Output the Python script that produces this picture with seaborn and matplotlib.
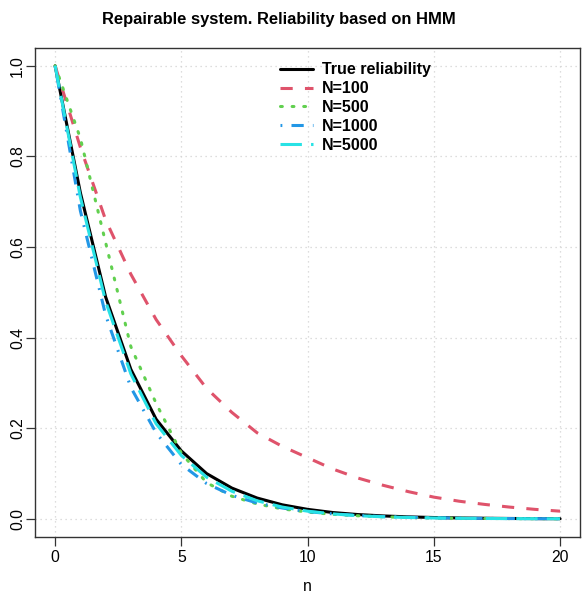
import matplotlib
matplotlib.use("Agg")
import matplotlib.pyplot as plt
import seaborn as sns

# values
n = list(range(21))
true_rel = [1.0, 0.72, 0.49, 0.33, 0.22, 0.15, 0.10, 0.068, 0.046, 0.031, 0.021,
            0.014, 0.0095, 0.0065, 0.0044, 0.003, 0.002, 0.0014, 0.0009, 0.0006, 0.0004]
n100 = [1.0, 0.82, 0.66, 0.54, 0.44, 0.36, 0.288, 0.235, 0.19, 0.16, 0.135,
        0.11, 0.09, 0.074, 0.06, 0.048, 0.039, 0.032, 0.026, 0.021, 0.017]
n500 = [1.0, 0.84, 0.61, 0.38, 0.255, 0.145, 0.08, 0.05, 0.033, 0.022, 0.015,
        0.01, 0.0068, 0.0045, 0.003, 0.002, 0.0013, 0.0009, 0.0006, 0.0004, 0.0003]
n1000 = [1.0, 0.68, 0.45, 0.29, 0.19, 0.12, 0.078, 0.052, 0.035, 0.024, 0.016,
         0.011, 0.0075, 0.005, 0.0035, 0.0024, 0.0016, 0.0011, 0.0007, 0.0005, 0.0003]
n5000 = [1.0, 0.71, 0.48, 0.32, 0.21, 0.14, 0.092, 0.061, 0.040, 0.026, 0.017,
         0.011, 0.007, 0.0045, 0.003, 0.002, 0.0013, 0.0009, 0.0006, 0.0004, 0.0003]
labels = ["True reliability", "N=100", "N=500", "N=1000", "N=5000"]

sns.set_style("white")
plt.rcParams['font.family'] = ['Liberation Sans', 'DejaVu Sans']
plt.rcParams['text.color'] = 'black'
plt.rcParams['axes.labelcolor'] = 'black'
plt.rcParams['xtick.color'] = 'black'
plt.rcParams['ytick.color'] = 'black'

fig = plt.figure(figsize=(5.82, 5.96), dpi=100)
ax = fig.add_axes([0.060, 0.099, 0.937, 0.821])

lw = 2.2
sns.lineplot(x=n, y=true_rel, ax=ax, color="black", lw=lw, linestyle="-", label=labels[0])
sns.lineplot(x=n, y=n100, ax=ax, color="#DF536B", lw=lw, linestyle=(0, (4, 4)), label=labels[1])
sns.lineplot(x=n, y=n500, ax=ax, color="#61D04F", lw=lw, linestyle=(0, (0.6, 3.2)),
             dash_capstyle="round", label=labels[2])
sns.lineplot(x=n, y=n1000, ax=ax, color="#2297E6", lw=lw, linestyle=(0, (0.6, 3, 4, 3)),
             label=labels[3])
sns.lineplot(x=n, y=n5000, ax=ax, color="#28E2E5", lw=lw, linestyle=(0, (7, 3)), label=labels[4])

ax.set_xlim(-0.8, 20.8)
ax.set_ylim(-0.04, 1.04)
ax.set_xticks([0, 5, 10, 15, 20])
ax.set_yticks([0.0, 0.2, 0.4, 0.6, 0.8, 1.0])
ax.set_yticklabels(["0.0", "0.2", "0.4", "0.6", "0.8", "1.0"])
ax.grid(True, color="lightgray", linestyle=(0, (1, 3)), lw=0.9)
for s in ax.spines.values():
    s.set_color("#333333")
    s.set_linewidth(1.0)
ax.tick_params(axis="both", direction="out", length=6.5, width=0.9, color="#333333",
               labelsize=11.3, bottom=True, left=True)
ax.tick_params(axis="x", pad=3)
ax.tick_params(axis="y", pad=0.5)
plt.setp(ax.get_yticklabels(), rotation=90, va="center")

ax.set_xlabel("n", fontsize=11.3, labelpad=10)
ax.set_ylabel("")
fig.suptitle("Repairable system. Reliability based on HMM", fontsize=11.9,
             fontweight="bold", x=0.479, y=0.98)

leg = ax.legend(loc="upper left", bbox_to_anchor=(0.4495, 0.970), frameon=False,
                prop={"weight": "bold", "size": 11.5}, borderaxespad=0, borderpad=0,
                labelspacing=0.24, handlelength=2.05, handletextpad=0.6)

fig.savefig("out.png", dpi=100)
